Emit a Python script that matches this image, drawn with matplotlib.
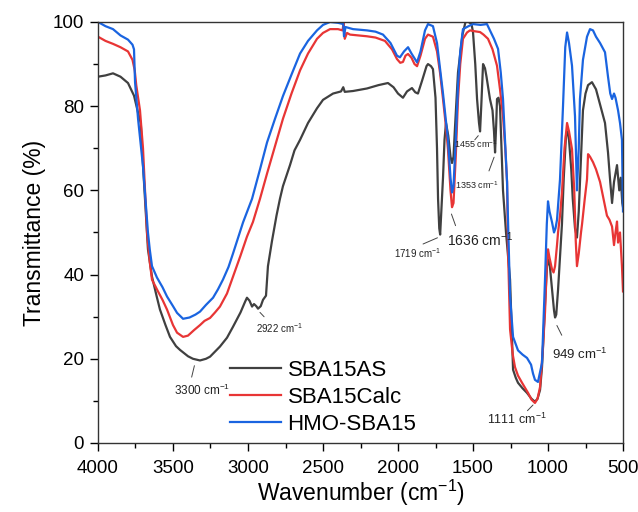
import numpy as np
from matplotlib import pyplot as plt
from matplotlib.ticker import MultipleLocator

plt.rcParams['font.family'] = ['Liberation Sans', 'DejaVu Sans']
plt.rcParams['mathtext.default'] = 'regular'

# SBA15AS (gray)
as_wn = [4000, 3950, 3900, 3850, 3800, 3760, 3730, 3715, 3700, 3687, 3667, 3640, 3610, 3587, 3550,
         3520, 3480, 3453, 3400, 3367, 3320, 3280, 3253, 3187, 3140, 3100, 3050, 3020, 3007, 2990,
         2973, 2960, 2945, 2933, 2915, 2900, 2880, 2867, 2840, 2810, 2787, 2767, 2720, 2690, 2653,
         2600, 2540, 2500, 2433, 2380, 2365, 2355, 2300, 2207, 2130, 2067, 2030, 2000, 1967, 1940,
         1907, 1885, 1867, 1840, 1810, 1800, 1780, 1767, 1750, 1740, 1733, 1725, 1719, 1710, 1700,
         1690, 1680, 1665, 1650, 1640, 1630, 1620, 1600, 1570, 1550, 1530, 1510, 1500, 1485, 1473,
         1460, 1453, 1445, 1433, 1420, 1410, 1387, 1370, 1360, 1353, 1345, 1340, 1330, 1320, 1310,
         1300, 1280, 1253, 1240, 1233, 1215, 1200, 1170, 1140, 1110, 1087, 1070, 1053, 1040, 1033,
         1020, 1007, 993, 985, 973, 960, 953, 945, 933, 920, 907, 895, 880, 870, 860, 845, 835, 820,
         807, 795, 780, 767, 750, 733, 707, 680, 650, 620, 600, 585, 573, 560, 540, 525, 515, 505, 500]
as_t = [87.0, 87.3, 87.8, 87.0, 85.5, 82.5, 78, 76, 66, 58, 46, 39.5, 35, 31.7, 28,
        25.2, 23, 22.1, 20.6, 20.0, 19.6, 20, 20.5, 22.9, 25, 27.6, 31, 33.5, 34.5, 33.8,
        32.4, 33, 32.5, 31.9, 32.5, 34, 35, 42, 48, 54, 58, 61, 66, 69.5, 72,
        76, 79.5, 81.5, 83, 83.5, 84.5, 83.4, 83.6, 84.2, 85, 85.5, 84.5, 83, 82, 83.5,
        84.3, 83.3, 83, 86, 89.5, 90, 89.5, 88.8, 82, 70, 58, 51, 49.5, 56, 63,
        72, 76, 73, 68, 66.5, 68, 75, 88, 97, 100, 100, 99.5, 97.6, 90, 81.7,
        76, 74, 80, 90, 89, 87, 81.7, 79, 74, 69, 76, 81.7, 82, 80, 70,
        60, 50, 38.8, 25, 17.4, 15.5, 14.3, 13, 11.9, 10.5, 9.8, 10.5, 12.6, 18, 23,
        33, 42, 43.6, 41, 36.4, 31.5, 29.8, 30.5, 36.4, 44, 52, 63, 73, 74, 72, 65, 58, 51,
        48.8, 55, 68, 79, 83, 85, 85.7, 84, 80, 76, 69, 62, 57, 62, 66, 60, 63, 57, 56]

# SBA15Calc (red)
calc_wn = [4000, 3950, 3900, 3850, 3800, 3770, 3755, 3745, 3720, 3700, 3673, 3655, 3640, 3600, 3570,
           3540, 3500, 3473, 3433, 3400, 3360, 3320, 3290, 3253, 3220, 3187, 3140, 3100, 3050, 3007,
           2967, 2920, 2873, 2820, 2767, 2710, 2653, 2600, 2540, 2500, 2453, 2400, 2370, 2362, 2355,
           2340, 2320, 2207, 2150, 2087, 2040, 2007, 1985, 1967, 1950, 1933, 1910, 1890, 1873, 1850,
           1820, 1800, 1767, 1740, 1720, 1700, 1680, 1667, 1650, 1640, 1630, 1615, 1600, 1585, 1567,
           1540, 1520, 1490, 1453, 1430, 1400, 1370, 1340, 1320, 1300, 1285, 1273, 1267, 1253, 1235,
           1220, 1200, 1173, 1133, 1110, 1087, 1070, 1053, 1035, 1020, 1008, 1000, 990, 973, 963,
           953, 940, 933, 920, 907, 890, 873, 860, 840, 825, 815, 807, 795, 780, 773,
           755, 740, 733, 720, 700, 680, 653, 630, 607, 590, 573, 560, 550, 540, 533, 520, 507, 500]
calc_t = [96.5, 95.5, 94.8, 94, 93, 91, 88.5, 85, 79, 70, 50, 43, 38.8, 36, 34,
          31.7, 28, 26.2, 25.2, 25.5, 26.8, 28, 29, 29.7, 31, 32.4, 35.5, 39.5, 44.5, 49,
          52.5, 58, 64, 70.5, 77, 83, 88.5, 92.5, 96, 97.4, 98.3, 98.3, 98, 99.8, 96,
          97.4, 97, 96.6, 96.3, 95.5, 93.5, 91.2, 90.3, 90.5, 92, 92.4, 91.5, 90, 89.5, 92,
          96, 97, 96.5, 93, 88, 81.7, 75, 69.8, 60, 56, 57, 68, 81.7, 90, 96,
          97.5, 98, 97.8, 97.6, 97, 96, 93.5, 89.6, 84, 77.6, 70, 62, 46.7, 27, 21,
          18, 16, 14.3, 11.9, 10.3, 9.5, 10.5, 13.3, 22, 31, 42, 46, 44, 41.2, 40.5,
          42, 47, 50, 54, 59.5, 70, 76, 74, 69.8, 60, 48, 42, 45, 50, 52,
          58, 62.6, 68.6, 68, 66.7, 65, 62, 58, 54, 53, 51.4, 47, 50, 52.6, 47.6, 50, 42, 36]

# HMO-SBA15 (blue)
hmo_wn = [4000, 3950, 3900, 3850, 3800, 3770, 3760, 3753, 3733, 3700, 3667, 3655, 3640, 3607, 3570,
          3540, 3500, 3473, 3433, 3390, 3350, 3320, 3280, 3233, 3200, 3167, 3130, 3100, 3033, 2973,
          2920, 2873, 2820, 2767, 2710, 2653, 2600, 2540, 2500, 2453, 2400, 2365, 2360, 2350, 2300,
          2207, 2150, 2100, 2050, 2007, 1987, 1960, 1933, 1910, 1873, 1850, 1820, 1800, 1767, 1740,
          1720, 1700, 1667, 1650, 1640, 1630, 1615, 1600, 1585, 1567, 1530, 1500, 1450, 1407, 1387,
          1360, 1333, 1315, 1300, 1273, 1268, 1253, 1233, 1200, 1170, 1140, 1113, 1100, 1087, 1067,
          1040, 1020, 1008, 1000, 990, 973, 960, 950, 940, 920, 900, 885, 873, 860, 840,
          820, 807, 795, 787, 767, 740, 720, 700, 680, 653, 620, 600, 585, 573, 560,
          550, 533, 520, 507, 503, 500]
hmo_t = [100, 99, 98.3, 96.8, 95.8, 94.6, 93.5, 85.7, 77, 65.7, 50, 46, 42, 39.3, 37,
         34.8, 32.5, 30.9, 29.5, 29.8, 30.5, 31.2, 32.8, 34.5, 36.5, 38.8, 41.8, 45, 52.4, 58,
         65, 71.4, 77, 82.4, 87.5, 92.5, 95.5, 98, 99.3, 100, 99.8, 99.5, 96.6, 98.8, 98.3,
         98, 97.7, 97, 95, 92, 91.6, 93, 94, 92.5, 90.4, 93, 98, 99.5, 99, 95,
         89, 83, 72, 63, 59.5, 61, 72, 85, 93, 98.3, 99, 99.5, 99.3, 99.5, 98,
         96, 93.6, 88, 81.7, 62, 54.8, 34.8, 25.2, 22, 21, 20.2, 18.6, 16.5, 15, 14.5,
         19, 38.8, 52, 57.4, 55, 52.4, 50, 51, 53, 62.6, 80, 94, 97.5, 95, 89.6,
         77.6, 60, 70, 81.7, 91, 96.5, 98.3, 98, 96.5, 95, 92.8, 87, 83, 81.7, 83,
         82, 79, 76, 72, 62, 55]

labels = ['SBA15AS', 'SBA15Calc', 'HMO-SBA15']
colors = ['#404040', '#e83535', '#1a64e0']

# peak labels: text, text position, leader line (from, to), font size
peaks = [
    (r'3300 cm$^{-1}$', (3307, 12.4), (3353, 19.0), (3380, 15.0), 8.5),
    (r'2922 cm$^{-1}$', (2793, 27.4), (2933, 31.5), (2880, 29.5), 7),
    (r'1719 cm$^{-1}$', (1873, 45.2), (1720, 49.0), (1850, 47.0), 7),
    (r'1636 cm$^{-1}$', (1453, 48.3), (1650, 55.0), (1610, 51.0), 10),
    (r'1455 cm$^{-1}$', (1480, 71.0), (1453, 73.5), (1500, 71.5), 6.5),
    (r'1353 cm$^{-1}$', (1473, 61.2), (1353, 68.5), (1400, 64.0), 6.5),
    (r'949 cm$^{-1}$', (790, 21.0), (949, 28.5), (900, 25.0), 9.5),
    (r'1111 cm$^{-1}$', (1207, 5.5), (1087, 9.5), (1150, 7.2), 9),
]

fig = plt.figure(figsize=(6.38, 5.12), dpi=100)
ax = fig.add_axes([0.1536, 0.1348, 0.8229, 0.8223])

for wn, t, lab, c in zip([as_wn, calc_wn, hmo_wn], [as_t, calc_t, hmo_t], labels, colors):
    ax.plot(wn, t, color=c, lw=1.6, label=lab)

for txt, pos, p0, p1, fs in peaks:
    ax.text(pos[0], pos[1], txt, fontsize=fs, ha='center', va='center', color='#222222')
    ax.annotate('', xy=p0, xytext=p1,
                arrowprops=dict(arrowstyle='-', lw=0.7, color='#444444'))

ax.set_xlim(4000, 500)
ax.set_ylim(0, 100)
ax.xaxis.set_major_locator(MultipleLocator(500))
ax.xaxis.set_minor_locator(MultipleLocator(250))
ax.yaxis.set_major_locator(MultipleLocator(20))
ax.yaxis.set_minor_locator(MultipleLocator(10))
ax.tick_params(which='major', direction='out', length=6, width=1, labelsize=13.5, pad=4)
ax.tick_params(axis='x', which='major', pad=6)
ax.tick_params(which='minor', direction='out', length=3.5, width=1)
for sp in ax.spines.values():
    sp.set_color('#333333')
    sp.set_linewidth(1)

ax.set_xlabel(r'Wavenumber (cm$^{-1}$)', fontsize=16.5, labelpad=1)
ax.set_ylabel('Transmittance (%)', fontsize=16.5, labelpad=5)

ax.legend(loc='upper left', bbox_to_anchor=(0.251, 0.198), frameon=False, fontsize=16,
          handlelength=2.3, handletextpad=0.3, labelspacing=0.28, borderpad=0, borderaxespad=0)

plt.savefig('out.png', dpi=100)
